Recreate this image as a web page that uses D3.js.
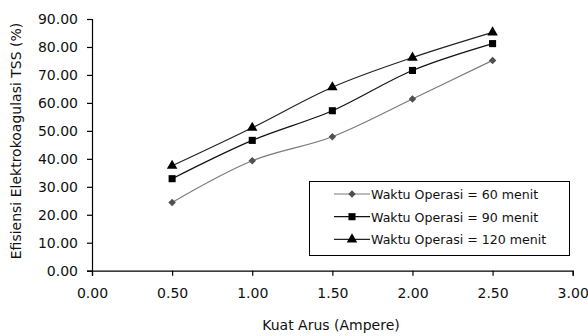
<!DOCTYPE html>
<html>
<head>
<meta charset="utf-8">
<script src="https://cdn.jsdelivr.net/npm/d3@7"></script>
<style>
  body { margin: 0; background: #fff; }
  svg text { font-family: "DejaVu Sans", Verdana, sans-serif; fill: #111; }
</style>
</head>
<body>
<div id="chart"></div>
<script>
const arus = [0.5, 1.0, 1.5, 2.0, 2.5];
const menit60 = [24.4, 39.3, 47.9, 61.4, 75.2];
const menit90 = [32.9, 46.6, 57.2, 71.6, 81.2];
const menit120 = [37.5, 51.1, 65.6, 76.2, 85.2];
const seriesNames = ['Waktu Operasi = 60 menit', 'Waktu Operasi = 90 menit', 'Waktu Operasi = 120 menit'];
const xTicks = [0, 0.5, 1, 1.5, 2, 2.5, 3];
const yTicks = [0, 10, 20, 30, 40, 50, 60, 70, 80, 90];

const W = 588, H = 336;
const margin = { left: 92, right: 15, top: 19, bottom: 65 };

const svg = d3.select('#chart').append('svg')
  .attr('width', W).attr('height', H);

const x = d3.scaleLinear().domain([0, 3]).range([margin.left, 572.7]);
const y = d3.scaleLinear().domain([0, 90]).range([270.7, margin.top]);

const fmt = d3.format('.2f');

// Sumbu
const xAxis = svg.append('g')
  .attr('transform', `translate(0,${y(0)})`)
  .call(d3.axisBottom(x).tickValues(xTicks).tickFormat(fmt).tickSizeOuter(0).tickSize(5).tickPadding(12));
const yAxis = svg.append('g')
  .attr('transform', `translate(${x(0)},0)`)
  .call(d3.axisLeft(y).tickValues(yTicks).tickFormat(fmt).tickSizeOuter(0).tickSize(5).tickPadding(9));

[xAxis, yAxis].forEach(a => {
  a.select('.domain').attr('stroke', '#000').attr('stroke-width', 1.2);
  a.selectAll('.tick line').attr('stroke', '#000').attr('stroke-width', 1.2);
  a.selectAll('.tick text').style('font-size', '14px').attr('fill', '#111')
    .style('font-family', '"DejaVu Sans", sans-serif');
});

// Judul sumbu
svg.append('text')
  .attr('x', 331).attr('y', 330)
  .attr('text-anchor', 'middle')
  .style('font-size', '14px')
  .text('Kuat Arus (Ampere)');

svg.append('text')
  .attr('transform', `translate(21,141) rotate(-90)`)
  .attr('text-anchor', 'middle')
  .style('font-size', '14px')
  .text('Efisiensi Elektrokoagulasi TSS (%)');

// Seri (belah ketupat = persegi diputar 45°)
const series = [
  { name: seriesNames[0], values: menit60, line: '#7a7a7a', marker: '#505050', symbol: d3.symbolSquare, size: 28, rot: 45 },
  { name: seriesNames[1], values: menit90, line: '#111', marker: '#000', symbol: d3.symbolSquare, size: 50, rot: 0 },
  { name: seriesNames[2], values: menit120, line: '#222', marker: '#000', symbol: d3.symbolTriangle, size: 48, rot: 0 }
];

const line = d3.line()
  .x((d, i) => x(arus[i]))
  .y(d => y(d))
  .curve(d3.curveCatmullRom.alpha(0.5));

series.forEach(s => {
  svg.append('path')
    .datum(s.values)
    .attr('d', line)
    .attr('fill', 'none')
    .attr('stroke', s.line)
    .attr('stroke-width', 1.2);

  svg.selectAll(null)
    .data(s.values)
    .enter().append('path')
    .attr('transform', (d, i) => `translate(${x(arus[i])},${y(d)}) rotate(${s.rot})`)
    .attr('d', d3.symbol().type(s.symbol).size(s.size))
    .attr('fill', s.marker);
});

// Legenda
const lg = svg.append('g');
lg.append('rect')
  .attr('x', 309.5).attr('y', 181.5)
  .attr('width', 260).attr('height', 74)
  .attr('fill', '#fff').attr('stroke', '#000').attr('stroke-width', 1);

series.forEach((s, i) => {
  const ly = 194 + i * 22.7;
  lg.append('line')
    .attr('x1', 334).attr('x2', 370).attr('y1', ly).attr('y2', ly)
    .attr('stroke', s.line).attr('stroke-width', 1.2);
  lg.append('path')
    .attr('transform', `translate(352,${ly}) rotate(${s.rot})`)
    .attr('d', d3.symbol().type(s.symbol).size(s.size))
    .attr('fill', s.marker);
  lg.append('text')
    .attr('x', 371).attr('y', ly + 5)
    .style('font-size', '12.6px')
    .text(s.name);
});
</script>
</body>
</html>
